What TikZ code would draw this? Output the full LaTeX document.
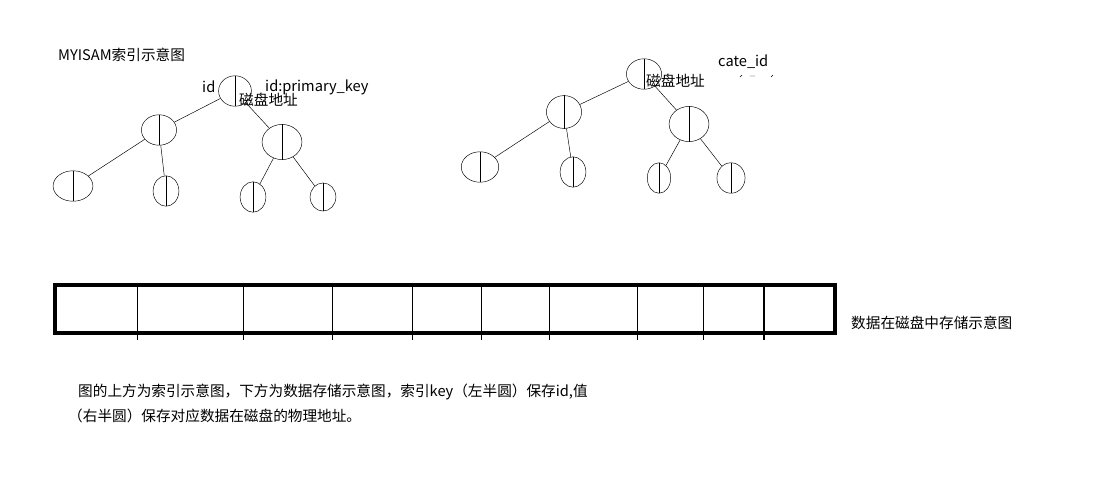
\documentclass[tikz,border=0pt]{standalone}
\usepackage{fontspec}
\setmainfont{Noto Sans CJK SC}
\usetikzlibrary{shapes.geometric}
\tikzset{
    keynode/.style={draw, ellipse, inner sep=0pt, minimum width=#1},
    txt/.style={anchor=west, inner sep=0pt, font=\fontsize{12.5}{15}\selectfont},
    cell/.style={line width=0.7pt}
}
\newcommand{\keysplit}[1]{\draw (#1.north) -- (#1.south);}
\begin{document}
\begin{tikzpicture}[x=0.03cm, y=-0.03cm]
    \useasboundingbox (0,0) rectangle (1103,499);

    % Left tree
    \node[keynode=28, minimum height=26] (lr) at (235,91) {};
    \node[keynode=30, minimum height=26] (la) at (159,130) {};
    \node[keynode=34, minimum height=30] (lb) at (282,142) {};
    \node[keynode=34, minimum height=26] (laa) at (73,186) {};
    \node[keynode=22, minimum height=26] (lab) at (166,191) {};
    \node[keynode=22, minimum height=26] (lba) at (253,197) {};
    \node[keynode=22, minimum height=24] (lbb) at (323,197) {};
    \foreach \n in {lr,la,lb,laa,lab,lba,lbb} {\keysplit{\n}}
    \draw (lr) -- (la);
    \draw (lr) -- (lb);
    \draw (la) -- (laa);
    \draw (la) -- (lab);
    \draw (lb) -- (lba);
    \draw (lb) -- (lbb);

    % Right tree
    \node[keynode=30, minimum height=26] (rr) at (644,74) {};
    \node[keynode=30, minimum height=28] (ra) at (564,112) {};
    \node[keynode=34, minimum height=30] (rb) at (689,124) {};
    \node[keynode=32, minimum height=26] (raa) at (480,167) {};
    \node[keynode=22, minimum height=26] (rab) at (573,172) {};
    \node[keynode=20, minimum height=26] (rba) at (659,178) {};
    \node[keynode=24, minimum height=26] (rbb) at (731,178) {};
    \foreach \n in {rr,ra,rb,raa,rab,rba,rbb} {\keysplit{\n}}
    \draw (rr) -- (ra);
    \draw (rr) -- (rb);
    \draw (ra) -- (raa);
    \draw (ra) -- (rab);
    \draw (rb) -- (rba);
    \draw (rb) -- (rbb);

    % Labels
    \node[txt] (title) at (58,55) {MYISAM索引示意图};
    \node[txt] (lid) at (202,87) {id};
    \node[txt] (lpk) at (265,87) {id:primary\_key};
    \node[txt] (laddr) at (239,100) {磁盘地址};
    \node[txt] (raddr) at (646,81) {磁盘地址};
    \node[txt] (rcate) at (718,62) {cate\_id};
    \draw (740,77) -- (742,75) (750,76) -- (755,76) (771,77) -- (773,75);

    % Disk storage
    \draw[line width=3pt] (55,285) rectangle (835,333);
    \foreach \x in {137,243,332,412,481,549,637,703}
        {\draw[cell] (\x,287) -- (\x,340);}
    \draw[line width=2.5pt] (764,287) -- (764,340);
    \node[txt] (disk) at (851,323) {数据在磁盘中存储示意图};

    % Note
    \node[txt] (note1) at (78,392) {图的上方为索引示意图，下方为数据存储示意图，索引key（左半圆）保存id,值};
    \node[txt] (note2) at (68,416) {（右半圆）保存对应数据在磁盘的物理地址。};
\end{tikzpicture}
\end{document}
